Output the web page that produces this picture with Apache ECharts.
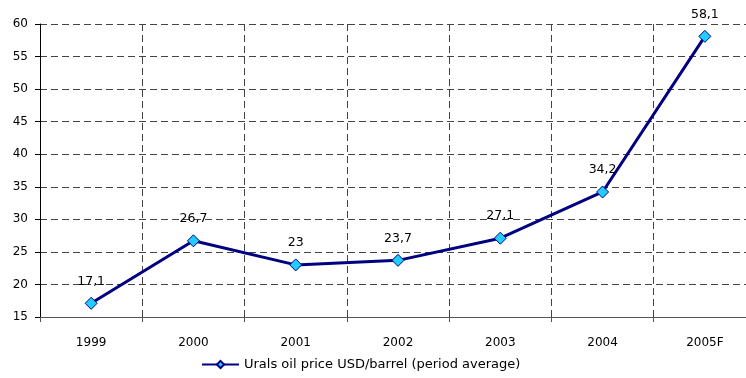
<!DOCTYPE html>
<html><head><meta charset="utf-8">
<script src="https://cdn.jsdelivr.net/npm/echarts@6/dist/echarts.min.js"></script>
<style>html,body{margin:0;padding:0;background:#fff;overflow:hidden;width:746px;height:378px}#w{width:746px;height:378px;overflow:hidden;position:relative}#c{width:756px;height:378px;position:absolute;left:0;top:0}</style>
</head><body><div id="w"><div id="c"></div></div>
<script>
const categories = ['1999','2000','2001','2002','2003','2004','2005F'];
const values = [17.1, 26.7, 23, 23.7, 27.1, 34.2, 58.1];
const seriesName = 'Urals oil price USD/barrel (period average)';
const yMin = 15, yMax = 60, yStep = 5;

const chart = echarts.init(document.getElementById('c'));
const font = 'DejaVu Sans';
chart.setOption({
  animation: false,
  textStyle: {fontFamily: font},
  grid: {left: 40, top: 24, bottom: 61, right: 0, containLabel: false},
  legend: {
    bottom: 2, left: 196, itemWidth: 37, itemHeight: 9, itemGap: 4,
    textStyle: {fontFamily: font, fontSize: 13, color: '#000'},
    data: [seriesName]
  },
  xAxis: {
    type: 'category', data: categories, boundaryGap: true,
    axisLine: {lineStyle: {color: '#555', width: 1}},
    axisTick: {show: true, length: 5, lineStyle: {color: '#555'}},
    axisLabel: {fontFamily: font, fontSize: 12, color: '#000', margin: 20},
    splitLine: {show: true, lineStyle: {color: '#444', type: [7, 4], width: 1}}
  },
  yAxis: {
    type: 'value', min: yMin, max: yMax, interval: yStep,
    axisLine: {show: true, lineStyle: {color: '#000', width: 1}},
    axisTick: {show: true, length: 5, lineStyle: {color: '#000'}},
    axisLabel: {fontFamily: font, fontSize: 12, color: '#000', margin: 12},
    splitLine: {show: true, lineStyle: {color: '#444', type: [7, 4], width: 1}}
  },
  series: [{
    name: seriesName, type: 'line', data: values,
    symbol: 'diamond', symbolSize: 12,
    lineStyle: {color: '#000080', width: 3},
    itemStyle: {color: '#22CCFF', borderColor: '#000080', borderWidth: 1},
    label: {
      show: true, position: 'top', distance: 9,
      fontFamily: font, fontSize: 12.5, color: '#000',
      formatter: p => String(p.value).replace('.', ',')
    }
  }]
});
</script></body></html>
